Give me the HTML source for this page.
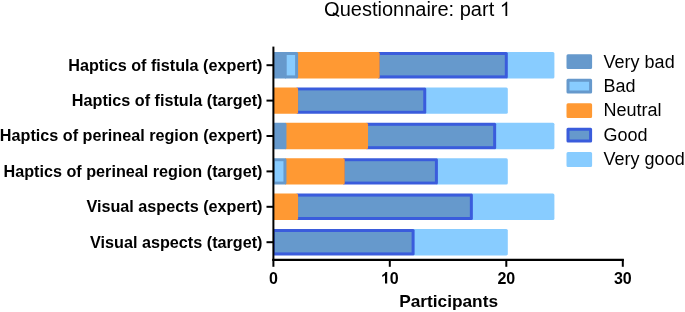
<!DOCTYPE html>
<html><head><meta charset="utf-8"><style>
html,body{margin:0;padding:0;background:#fff;}
svg{display:block;}
text{font-family:"Liberation Sans",sans-serif;fill:#000;filter:grayscale(1);}
.lab{font-size:16.2px;font-weight:bold;}
.tk{font-size:16px;font-weight:bold;}
.xt{font-size:17.3px;font-weight:bold;}
.ti{font-size:20px;white-space:pre;}
.lg{font-size:18px;}
</style></head><body>
<svg width="685" height="312" viewBox="0 0 685 312">
<path d="M506.30,52.00 H552.90 Q554.40,52.00 554.40,53.50 V76.90 Q554.40,78.40 552.90,78.40 H506.30 Z" fill="#88ccff"/>
<path d="M378.15,52.00 H506.30 Q507.80,52.00 507.80,53.50 V76.90 Q507.80,78.40 506.30,78.40 H378.15 Z" fill="#3a5cdc"/>
<rect x="379.65" y="55.00" width="125.15" height="20.40" fill="#6699cc"/>
<path d="M296.60,52.00 H378.15 Q379.65,52.00 379.65,53.50 V76.90 Q379.65,78.40 378.15,78.40 H296.60 Z" fill="#ff9933"/>
<path d="M284.95,52.00 H296.60 Q298.10,52.00 298.10,53.50 V76.90 Q298.10,78.40 296.60,78.40 H284.95 Z" fill="#6699cc"/>
<rect x="286.45" y="55.00" width="8.65" height="20.40" fill="#88ccff"/>
<path d="M273.40,52.00 H284.95 Q286.45,52.00 286.45,53.50 V76.90 Q286.45,78.40 284.95,78.40 H273.40 Z" fill="#6699cc"/>
<text x="262.5" y="70.60" text-anchor="end" class="lab">Haptics of fistula (expert)</text>
<line x1="266.5" y1="65.20" x2="273" y2="65.20" stroke="#000" stroke-width="2"/>
<path d="M424.75,87.40 H506.30 Q507.80,87.40 507.80,88.90 V112.30 Q507.80,113.80 506.30,113.80 H424.75 Z" fill="#88ccff"/>
<path d="M296.60,87.40 H424.75 Q426.25,87.40 426.25,88.90 V112.30 Q426.25,113.80 424.75,113.80 H296.60 Z" fill="#3a5cdc"/>
<rect x="298.10" y="90.40" width="125.15" height="20.40" fill="#6699cc"/>
<path d="M273.40,87.40 H296.60 Q298.10,87.40 298.10,88.90 V112.30 Q298.10,113.80 296.60,113.80 H273.40 Z" fill="#ff9933"/>
<text x="262.5" y="106.00" text-anchor="end" class="lab">Haptics of fistula (target)</text>
<line x1="266.5" y1="100.60" x2="273" y2="100.60" stroke="#000" stroke-width="2"/>
<path d="M494.65,122.80 H552.90 Q554.40,122.80 554.40,124.30 V147.70 Q554.40,149.20 552.90,149.20 H494.65 Z" fill="#88ccff"/>
<path d="M366.50,122.80 H494.65 Q496.15,122.80 496.15,124.30 V147.70 Q496.15,149.20 494.65,149.20 H366.50 Z" fill="#3a5cdc"/>
<rect x="368.00" y="125.80" width="125.15" height="20.40" fill="#6699cc"/>
<path d="M284.95,122.80 H366.50 Q368.00,122.80 368.00,124.30 V147.70 Q368.00,149.20 366.50,149.20 H284.95 Z" fill="#ff9933"/>
<path d="M273.40,122.80 H284.95 Q286.45,122.80 286.45,124.30 V147.70 Q286.45,149.20 284.95,149.20 H273.40 Z" fill="#6699cc"/>
<text x="262.5" y="141.40" text-anchor="end" class="lab">Haptics of perineal region (expert)</text>
<line x1="266.5" y1="136.00" x2="273" y2="136.00" stroke="#000" stroke-width="2"/>
<path d="M436.40,158.20 H506.30 Q507.80,158.20 507.80,159.70 V183.10 Q507.80,184.60 506.30,184.60 H436.40 Z" fill="#88ccff"/>
<path d="M343.20,158.20 H436.40 Q437.90,158.20 437.90,159.70 V183.10 Q437.90,184.60 436.40,184.60 H343.20 Z" fill="#3a5cdc"/>
<rect x="344.70" y="161.20" width="90.20" height="20.40" fill="#6699cc"/>
<path d="M284.95,158.20 H343.20 Q344.70,158.20 344.70,159.70 V183.10 Q344.70,184.60 343.20,184.60 H284.95 Z" fill="#ff9933"/>
<path d="M273.40,158.20 H284.95 Q286.45,158.20 286.45,159.70 V183.10 Q286.45,184.60 284.95,184.60 H273.40 Z" fill="#6699cc"/>
<rect x="274.80" y="161.20" width="8.65" height="20.40" fill="#88ccff"/>
<text x="262.5" y="176.80" text-anchor="end" class="lab">Haptics of perineal region (target)</text>
<line x1="266.5" y1="171.40" x2="273" y2="171.40" stroke="#000" stroke-width="2"/>
<path d="M471.35,193.60 H552.90 Q554.40,193.60 554.40,195.10 V218.50 Q554.40,220.00 552.90,220.00 H471.35 Z" fill="#88ccff"/>
<path d="M296.60,193.60 H471.35 Q472.85,193.60 472.85,195.10 V218.50 Q472.85,220.00 471.35,220.00 H296.60 Z" fill="#3a5cdc"/>
<rect x="298.10" y="196.60" width="171.75" height="20.40" fill="#6699cc"/>
<path d="M273.40,193.60 H296.60 Q298.10,193.60 298.10,195.10 V218.50 Q298.10,220.00 296.60,220.00 H273.40 Z" fill="#ff9933"/>
<text x="262.5" y="212.20" text-anchor="end" class="lab">Visual aspects (expert)</text>
<line x1="266.5" y1="206.80" x2="273" y2="206.80" stroke="#000" stroke-width="2"/>
<path d="M413.10,229.00 H506.30 Q507.80,229.00 507.80,230.50 V253.90 Q507.80,255.40 506.30,255.40 H413.10 Z" fill="#88ccff"/>
<path d="M273.40,229.00 H413.10 Q414.60,229.00 414.60,230.50 V253.90 Q414.60,255.40 413.10,255.40 H273.40 Z" fill="#3a5cdc"/>
<rect x="274.80" y="232.00" width="136.80" height="20.40" fill="#6699cc"/>
<text x="262.5" y="247.60" text-anchor="end" class="lab">Visual aspects (target)</text>
<line x1="266.5" y1="242.20" x2="273" y2="242.20" stroke="#000" stroke-width="2"/>
<line x1="273.4" y1="46.6" x2="273.4" y2="260.8" stroke="#000" stroke-width="2"/>
<line x1="272.4" y1="259.8" x2="623.8" y2="259.8" stroke="#000" stroke-width="2.2"/>
<line x1="273.40" y1="259" x2="273.40" y2="266.8" stroke="#000" stroke-width="2"/>
<text x="273.40" y="283.5" text-anchor="middle" class="tk">0</text>
<line x1="389.80" y1="259" x2="389.80" y2="266.8" stroke="#000" stroke-width="2"/>
<path transform="translate(380.90,283.5) scale(0.007812,-0.007812)" d="M806,0 L525,0 L525,1059 Q440,980 340,925 Q250,875 170,848 L170,1103 Q300,1145 420,1250 Q540,1350 588,1466 L806,1466 Z" fill="#000"/>
<text x="389.80" y="283.5" class="tk">0</text>
<line x1="506.30" y1="259" x2="506.30" y2="266.8" stroke="#000" stroke-width="2"/>
<text x="506.30" y="283.5" text-anchor="middle" class="tk">20</text>
<line x1="622.80" y1="259" x2="622.80" y2="266.8" stroke="#000" stroke-width="2"/>
<text x="622.80" y="283.5" text-anchor="middle" class="tk">30</text>
<text x="448.6" y="306.8" text-anchor="middle" class="xt">Participants</text>
<text x="324.1" y="16" class="ti">Ouestionnaire: part </text>
<path transform="translate(324.1,16) scale(0.009766,-0.009766)" d="M943,395 L1578,25 L1502,-105 L867,265 Z" fill="#000"/>
<path transform="translate(499.76,16) scale(0.009766,-0.009766)" d="M763,0 L583,0 L583,1147 Q518,1085 412,1023 Q306,961 222,930 L222,1104 Q373,1175 486,1276 Q599,1377 646,1466 L763,1466 Z" fill="#000"/>
<rect x="568.00" y="55.80" width="22.60" height="11.80" fill="#6699cc" stroke="#6699cc" stroke-width="3" stroke-linejoin="round"/>
<text x="603.6" y="67.60" class="lg">Very bad</text>
<rect x="568.00" y="80.25" width="22.60" height="11.80" fill="#88ccff" stroke="#6699cc" stroke-width="3" stroke-linejoin="round"/>
<text x="603.6" y="91.90" class="lg">Bad</text>
<rect x="568.00" y="104.70" width="22.60" height="11.80" fill="#ff9933" stroke="#ff9933" stroke-width="3" stroke-linejoin="round"/>
<text x="603.6" y="116.20" class="lg">Neutral</text>
<rect x="568.00" y="129.15" width="22.60" height="11.80" fill="#6699cc" stroke="#3a5cdc" stroke-width="3" stroke-linejoin="round"/>
<text x="603.6" y="140.50" class="lg">Good</text>
<rect x="568.00" y="153.60" width="22.60" height="11.80" fill="#88ccff" stroke="#88ccff" stroke-width="3" stroke-linejoin="round"/>
<text x="603.6" y="164.80" class="lg">Very good</text>
</svg>
</body></html>
